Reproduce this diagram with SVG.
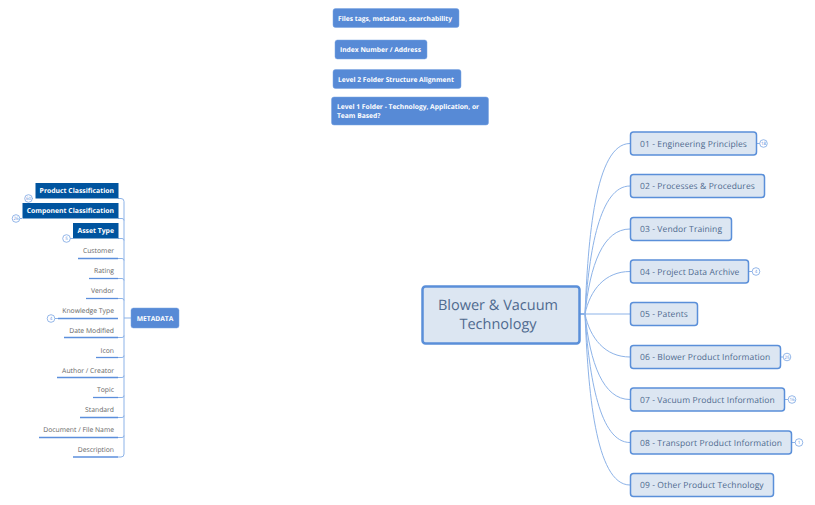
<svg xmlns="http://www.w3.org/2000/svg" width="815" height="505" viewBox="0 0 815 505">
<style>
text{font-family:"Open Sans","Noto Sans","Liberation Sans",sans-serif;text-rendering:geometricPrecision}
.conn path{fill:none;stroke:#8db3e8;stroke-width:1}
.under{stroke:#5c8fdc;stroke-width:1.3;fill:none}
.top rect{fill:#dce6f2;stroke:#5a8fd9;stroke-width:1.5}
.top text{fill:#4f6a8f;font-size:8.5px;letter-spacing:.1px}
.blue rect{fill:#578ad6;stroke:#7aa5e2;stroke-width:.5}
.blue text{fill:#fff;font-size:6.7px;font-weight:700}
.dark rect{fill:#00549f}
.dark text{fill:#fff;font-size:6.85px;font-weight:700;text-anchor:end}
.leaf text{fill:#666;font-size:6.8px;text-anchor:end}
.b circle{fill:#fff;stroke:#7aa5e2;stroke-width:.8}
.b text{fill:#5c8fdc;font-size:4.5px;text-anchor:middle}
</style>
<g class="conn">
<path d="M580 314H585C588 240 595 143.500 630 143.500"/>
<path d="M580 314H585C589 250 600 186 630 186"/>
<path d="M580 314H585C590 265 603 229 630 229"/>
<path d="M580 314H585C590 290 605 271.500 630 271.500"/>
<path d="M580 314H630"/>
<path d="M580 314H585C590 338 605 357 630 357"/>
<path d="M580 314H585C590 363 603 399.500 630 399.500"/>
<path d="M580 314H585C589 378 600 442.500 630 442.500"/>
<path d="M580 314H585C588 388 595 485 630 485"/>
<path d="M124 318H131"/>
<path d="M118 198.500H121Q124 198.500 124 201.500V454Q124 457 121 457H118"/>
<path d="M118 218.500H122Q124 218.500 124 220.500M118 238.500H122Q124 238.500 124 240.500M118 258.500H122Q124 258.500 124 260.500M118 278.500H122Q124 278.500 124 280.500M118 298.500H122Q124 298.500 124 300.500M118 337.500H122Q124 337.500 124 335.500M118 357.500H122Q124 357.500 124 355.500M118 377.500H122Q124 377.500 124 375.500M118 397.500H122Q124 397.500 124 395.500M118 417.500H122Q124 417.500 124 415.500M118 437.500H122Q124 437.500 124 435.500"/>
<path d="M756 143.500H760M749 271.500H752M780 357H783M785 399.500H788M792 442.500H795M33 198.500H32M22 218.500H20M73 238.500H70M55 318.500H58"/>
</g>
<g id="center" class="top"><rect x="422.500" y="286.500" width="157" height="57" rx="3" style="stroke-width:2.500"/><text x="498" y="309.500" text-anchor="middle" style="font-size:14.5px;letter-spacing:0">Blower &amp; Vacuum</text><text x="498" y="329" text-anchor="middle" style="font-size:14.5px;letter-spacing:0">Technology</text></g>
<g id="n01" class="top"><rect x="630.500" y="132" width="126" height="23" rx="3"/><text x="640" y="146.500">01 - Engineering Principles</text></g>
<g id="n02" class="top"><rect x="630.500" y="174.500" width="134" height="23" rx="3"/><text x="640" y="189">02 - Processes &amp; Procedures</text></g>
<g id="n03" class="top"><rect x="630.500" y="217.500" width="101" height="23" rx="3"/><text x="640" y="232">03 - Vendor Training</text></g>
<g id="n04" class="top"><rect x="630.500" y="260" width="118" height="23" rx="3"/><text x="640" y="274.500">04 - Project Data Archive</text></g>
<g id="n05" class="top"><rect x="630.500" y="302.500" width="67" height="23" rx="3"/><text x="640" y="317">05 - Patents</text></g>
<g id="n06" class="top"><rect x="630.500" y="345.500" width="150" height="23" rx="3"/><text x="640" y="360">06 - Blower Product Information</text></g>
<g id="n07" class="top"><rect x="630.500" y="388" width="154" height="23" rx="3"/><text x="640" y="402.500">07 - Vacuum Product Information</text></g>
<g id="n08" class="top"><rect x="630.500" y="431" width="161" height="23" rx="3"/><text x="640" y="445.500">08 - Transport Product Information</text></g>
<g id="n09" class="top"><rect x="630.500" y="473.500" width="143" height="23" rx="3"/><text x="640" y="488">09 - Other Product Technology</text></g>
<g id="note1" class="blue"><rect x="333" y="8.500" width="126" height="19" rx="2.500"/><text x="338" y="20.500">Files tags, metadata, searchability</text></g>
<g id="note2" class="blue"><rect x="335" y="40" width="92" height="19" rx="2.500"/><text x="340" y="52">Index Number / Address</text></g>
<g id="note3" class="blue"><rect x="333" y="69.500" width="128" height="19" rx="2.500"/><text x="338" y="81.500">Level 2 Folder Structure Alignment</text></g>
<g id="note4" class="blue"><rect x="331.500" y="97" width="157" height="28" rx="2.500"/><text x="337" y="109">Level 1 Folder - Technology, Application, or</text><text x="337" y="118">Team Based?</text></g>
<g id="metadata" class="blue"><rect x="131" y="308" width="48" height="20" rx="2.500"/><text x="155" y="320.500" text-anchor="middle">METADATA</text></g>
<g id="product" class="dark"><rect x="35.500" y="183" width="83" height="15.500"/><text x="114" y="193">Product Classification</text></g>
<g id="component" class="dark"><rect x="22.500" y="203" width="96" height="15.500"/><text x="114" y="213">Component Classification</text></g>
<g id="asset" class="dark"><rect x="73" y="223" width="45.500" height="15.500"/><text x="114" y="233">Asset Type</text></g>
<g id="customer" class="leaf"><text x="114" y="253">Customer</text><path class="under" d="M78 258.500H118"/></g>
<g id="rating" class="leaf"><text x="114" y="273">Rating</text><path class="under" d="M89 278.500H118"/></g>
<g id="vendor" class="leaf"><text x="114" y="293">Vendor</text><path class="under" d="M86 298.500H118"/></g>
<g id="knowledge" class="leaf"><text x="114" y="312.500">Knowledge Type</text><path class="under" d="M58 318.500H118"/></g>
<g id="date" class="leaf"><text x="114" y="332.500">Date Modified</text><path class="under" d="M64 337.500H118"/></g>
<g id="icon" class="leaf"><text x="114" y="352.500">Icon</text><path class="under" d="M96 357.500H118"/></g>
<g id="author" class="leaf"><text x="114" y="372.500">Author / Creator</text><path class="under" d="M57 377.500H118"/></g>
<g id="topic" class="leaf"><text x="114" y="392">Topic</text><path class="under" d="M93 397.500H118"/></g>
<g id="standard" class="leaf"><text x="114" y="412">Standard</text><path class="under" d="M80 417.500H118"/></g>
<g id="document" class="leaf"><text x="114" y="432">Document / File Name</text><path class="under" d="M39 437.500H118"/></g>
<g id="description" class="leaf"><text x="114" y="452">Description</text><path class="under" d="M73 457H118"/></g>
<g id="badges" class="b">
<g><circle cx="763.500" cy="143.500" r="3.800"/><text x="763.500" y="145">18</text></g>
<g><circle cx="756" cy="271.500" r="3.800"/><text x="756" y="273">4</text></g>
<g><circle cx="787" cy="357" r="3.800"/><text x="787" y="358.500">25</text></g>
<g><circle cx="792" cy="399.500" r="3.800"/><text x="792" y="401">16</text></g>
<g><circle cx="799" cy="442.500" r="3.800"/><text x="799" y="444">1</text></g>
<g><circle cx="28.500" cy="198.500" r="3.800"/><text x="28.500" y="200">60</text></g>
<g><circle cx="16" cy="218.500" r="3.800"/><text x="16" y="220">26</text></g>
<g><circle cx="66.500" cy="238.500" r="3.800"/><text x="66.500" y="240">5</text></g>
<g><circle cx="51" cy="318.500" r="3.800"/><text x="51" y="320">4</text></g>
</g>
</svg>
